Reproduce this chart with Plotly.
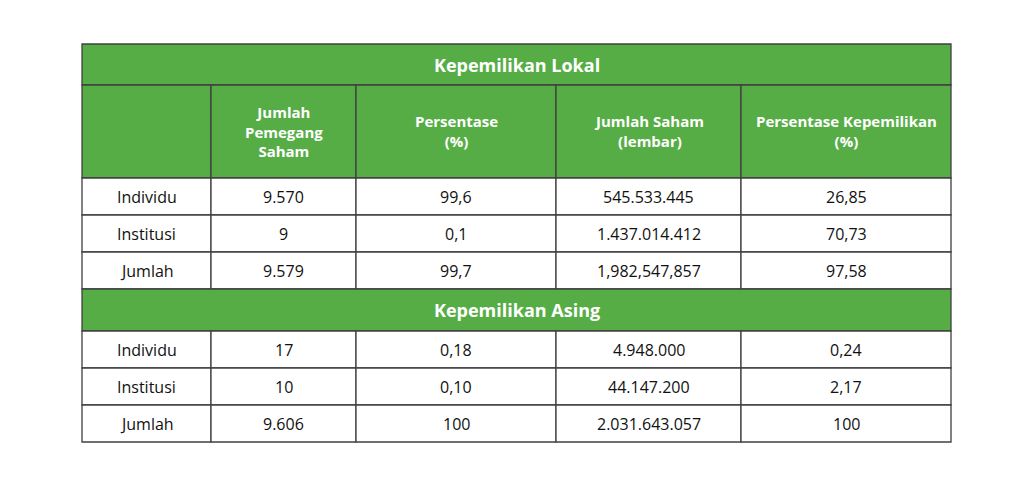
import plotly.graph_objects as go

title_local = "Kepemilikan Lokal"
title_foreign = "Kepemilikan Asing"
headers = ["", "Jumlah<br>Pemegang<br>Saham", "Persentase<br>(%)", "Jumlah Saham<br>(lembar)", "Persentase Kepemilikan<br>(%)"]
row_labels = ["Individu", "Institusi", "Jumlah"]
local_holders = ["9.570", "9", "9.579"]
local_pct = ["99,6", "0,1", "99,7"]
local_shares = ["545.533.445", "1.437.014.412", "1,982,547,857"]
local_own = ["26,85", "70,73", "97,58"]
foreign_holders = ["17", "10", "9.606"]
foreign_pct = ["0,18", "0,10", "100"]
foreign_shares = ["4.948.000", "44.147.200", "2.031.643.057"]
foreign_own = ["0,24", "2,17", "100"]

W, H = 1024, 487
cols = [82, 211, 356, 556, 741, 951]
green = "#56AD45"
line = "#404040"
font = "Open Sans"

shapes, anns = [], []

def rect(x0, y0, x1, y1, fill):
    shapes.append(dict(type="rect", x0=x0, y0=y0, x1=x1, y1=y1, fillcolor=fill,
                       line=dict(color=line, width=1.3), layer="below"))

def text(x, y, t, color="#111", bold=False, size=16):
    anns.append(dict(x=x, y=y, text=f"<b>{t}</b>" if bold else t, showarrow=False,
                     font=dict(family=font, size=size, color=color), xanchor="center", yanchor="middle"))

def title_row(y0, y1, t):
    rect(cols[0], y0, cols[-1], y1, green)
    text((cols[0] + cols[-1]) / 2, (y0 + y1) / 2, t, "white", True, 18)

def data_rows(y0, rh, labels, *series):
    for i, lab in enumerate(labels):
        a, b = y0 + i * rh, y0 + (i + 1) * rh
        vals = [lab] + [s[i] for s in series]
        for j, v in enumerate(vals):
            rect(cols[j], a, cols[j + 1], b, "white")
            text((cols[j] + cols[j + 1]) / 2, (a + b) / 2, v)

title_row(44, 85, title_local)
for j, h in enumerate(headers):
    rect(cols[j], 85, cols[j + 1], 178, green)
    if h:
        text((cols[j] + cols[j + 1]) / 2, 131, h, "white", True, 15)
data_rows(178, 37, row_labels, local_holders, local_pct, local_shares, local_own)
title_row(289, 331, title_foreign)
data_rows(331, 37, row_labels, foreign_holders, foreign_pct, foreign_shares, foreign_own)

fig = go.Figure()
fig.update_layout(width=W, height=H, margin=dict(l=0, r=0, t=0, b=0),
                  paper_bgcolor="white", plot_bgcolor="white",
                  xaxis=dict(range=[8, W + 8], visible=False, fixedrange=True),
                  yaxis=dict(range=[H + 8, 8], visible=False, fixedrange=True),
                  shapes=shapes, annotations=anns, showlegend=False)
fig.write_html("out.html", config={"displayModeBar": False})
